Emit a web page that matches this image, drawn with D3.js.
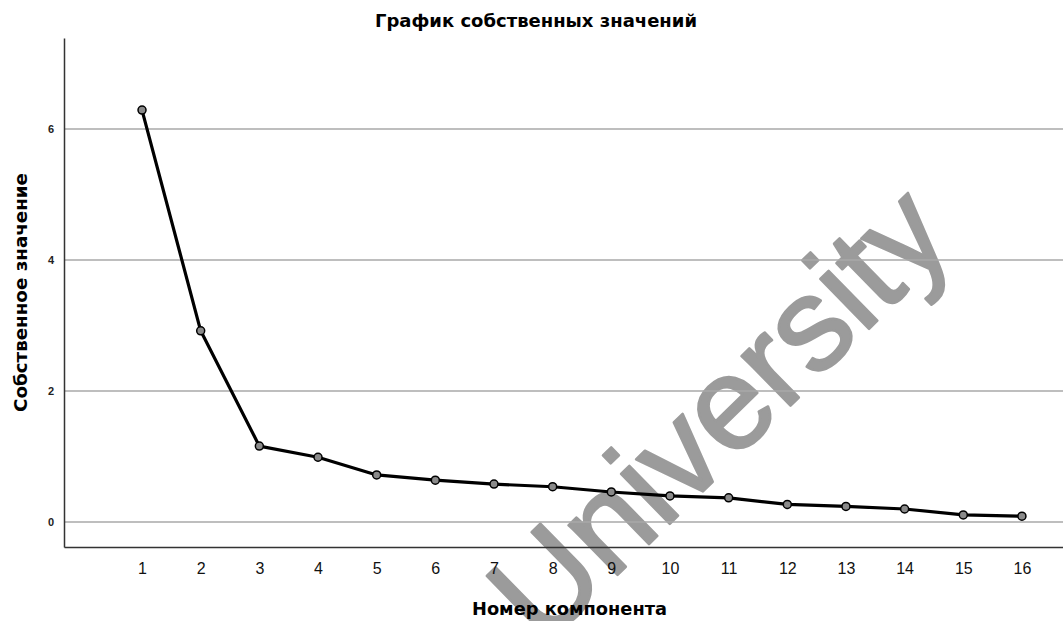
<!DOCTYPE html>
<html>
<head>
<meta charset="utf-8">
<script src="https://cdn.jsdelivr.net/npm/d3@7"></script>
<style>
  body { margin: 0; background: #fff; }
  text { font-family: "Liberation Sans", Arial, sans-serif; }
  .label { font-family: "DejaVu Sans", sans-serif; font-weight: bold; }
</style>
</head>
<body>
<div id="chart"></div>
<script>
var width = 1063;
var height = 621;

// scree plot values
var components = [1, 2, 3, 4, 5, 6, 7, 8, 9, 10, 11, 12, 13, 14, 15, 16];
var eigenvalues = [6.29, 2.92, 1.16, 0.99, 0.72, 0.64, 0.58, 0.54, 0.46, 0.40, 0.37, 0.27, 0.24, 0.20, 0.11, 0.09];
var yTicks = [0, 2, 4, 6];

var titleText = "График собственных значений";
var xTitle = "Номер компонента";
var yTitle = "Собственное значение";
var watermark = "University";

var plotLeft = 64, plotRight = 1063, plotTop = 38, plotBottom = 547;

var x = d3.scaleLinear().domain([-0.33, 16.7]).range([plotLeft, plotRight]);
var y = d3.scaleLinear().domain([-0.38, 7.39]).range([plotBottom, plotTop]);

var svg = d3.select("#chart").append("svg")
    .attr("width", width).attr("height", height);

// watermark behind everything
svg.append("text")
    .attr("transform", "translate(543,648) rotate(-44.4)")
    .attr("font-size", 132)
    .attr("fill", "#9b9b9b")
    .attr("stroke", "#9b9b9b")
    .attr("stroke-width", 2.5)
    .attr("stroke-linejoin", "round")
    .text(watermark);

// gridlines
svg.append("g").selectAll("line")
    .data(yTicks)
    .join("line")
    .attr("x1", plotLeft).attr("x2", plotRight)
    .attr("y1", d => y(d)).attr("y2", d => y(d))
    .attr("stroke", "#a8a8a8")
    .attr("stroke-width", 1.5);

// axes
var yAxis = d3.axisLeft(y).tickValues(yTicks).tickSize(0).tickPadding(10);
var gy = svg.append("g").attr("transform", "translate(" + plotLeft + ",0)").call(yAxis);
gy.select(".domain").attr("stroke", "#333").attr("stroke-width", 1.5);
gy.selectAll("text").attr("font-size", 11).attr("font-weight", "bold").attr("fill", "#222");

var xAxis = d3.axisBottom(x).tickValues(components).tickSize(0).tickPadding(16);
var gx = svg.append("g").attr("transform", "translate(0," + plotBottom + ")").call(xAxis);
gx.select(".domain").attr("stroke", "#333").attr("stroke-width", 1.5);
gx.selectAll("text").attr("font-size", 16).attr("fill", "#111");

// line + markers
var line = d3.line()
    .x((d, i) => x(components[i]))
    .y(d => y(d));

svg.append("path")
    .datum(eigenvalues)
    .attr("d", line)
    .attr("fill", "none")
    .attr("stroke", "#000")
    .attr("stroke-width", 3.2)
    .attr("stroke-linejoin", "round");

svg.append("g").selectAll("circle")
    .data(eigenvalues)
    .join("circle")
    .attr("cx", (d, i) => x(components[i]))
    .attr("cy", d => y(d))
    .attr("r", 4)
    .attr("fill", "#8a8a8a")
    .attr("stroke", "#000")
    .attr("stroke-width", 1.5);

// titles
svg.append("text").attr("class", "label")
    .attr("x", 375).attr("y", 27)
    .attr("font-size", 17)
    .attr("textLength", 322).attr("lengthAdjust", "spacingAndGlyphs")
    .text(titleText);

svg.append("text").attr("class", "label")
    .attr("x", 472).attr("y", 615)
    .attr("font-size", 17)
    .attr("textLength", 195).attr("lengthAdjust", "spacingAndGlyphs")
    .text(xTitle);

svg.append("text").attr("class", "label")
    .attr("transform", "translate(27,412) rotate(-90)")
    .attr("font-size", 17)
    .attr("textLength", 239).attr("lengthAdjust", "spacingAndGlyphs")
    .text(yTitle);
</script>
</body>
</html>
